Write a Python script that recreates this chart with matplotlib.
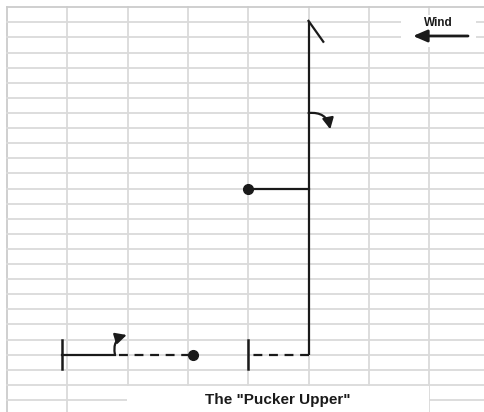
import matplotlib
matplotlib.use("Agg")
import matplotlib.pyplot as plt
from matplotlib.patches import Rectangle, FancyArrowPatch

plt.rcParams['font.family'] = ['Liberation Sans', 'DejaVu Sans']

# ---- data (grid units: x = spreadsheet column, y = spreadsheet row from top) ----
n_cols = 8
n_rows = 27

# right-hand route (receiver 1)
stem_x = [5, 5]
stem_y = [0.9, 23]
flag_x = [5, 5.245]
flag_y = [0.9, 2.28]
mid_branch_x = [5, 4]
mid_branch_y = [12, 12]
mid_dot = (4, 12)
right_dash_x = [5, 4]
right_dash_y = [23, 23]
right_bar_x = [4, 4]
right_bar_y = [22, 23.95]
right_curl_start = (5, 7.0)
right_curl_end = (5.36, 8.08)

# left-hand route (receiver 2)
left_bar_x = [0.915, 0.915]
left_bar_y = [22, 23.95]
left_solid_x = [0.915, 1.79]
left_solid_y = [23, 23]
left_curl_start = (1.79, 23)
left_curl_end = (1.985, 21.7)
left_dash_x = [1.86, 3.08]
left_dash_y = [23, 23]
left_dot = (3.08, 23)

# wind indicator
wind_label = "Wind"
wind_label_pos = (7.15, 1.05)
wind_from = (7.645, 1.9)
wind_to = (6.733, 1.9)

title_text = 'The "Pucker Upper"'
title_pos = (4.49, 26.3)

# ---- figure ----
fig = plt.figure(figsize=(4.84, 4.12), dpi=100)
ax = fig.add_axes([0, 0, 1, 1])
ax.set_xlim(-0.116, 7.910)
ax.set_ylim(26.80, -0.483)
ax.axis('off')

grid_c = '#dadada'
for c in range(0, n_cols):
    ax.plot([c, c], [0, n_rows], color='#cccccc' if c == 0 else grid_c, lw=1.3, zorder=1)
for r in range(0, n_rows):
    ax.plot([0, n_cols + 1], [r, r], color='#cccccc' if r == 0 else grid_c, lw=1.3, zorder=1)

# white boxes (title and wind text boxes)
ax.add_patch(Rectangle((1.99, 25.07), 5.0, 3, facecolor='white', edgecolor='none', zorder=2))
ax.add_patch(Rectangle((6.54, 0.5), 1.23, 2.1, facecolor='white', edgecolor='none', zorder=2))

ink = '#1a1a1a'
lw = 1.6
ax.plot(stem_x, stem_y, color=ink, lw=lw, zorder=3, solid_capstyle='butt')
ax.plot(flag_x, flag_y, color=ink, lw=lw, zorder=3)
ax.plot(mid_branch_x, mid_branch_y, color=ink, lw=lw, zorder=3)
ax.plot([mid_dot[0]], [mid_dot[1]], 'o', color=ink, ms=7, zorder=4)
ax.plot(right_dash_x, right_dash_y, color=ink, lw=lw, dashes=(4, 3), zorder=3)
ax.plot(right_bar_x, right_bar_y, color=ink, lw=lw + 0.2, zorder=3)

ax.plot(left_bar_x, left_bar_y, color=ink, lw=lw + 0.2, zorder=3)
ax.plot(left_solid_x, left_solid_y, color=ink, lw=lw, zorder=3)
ax.plot(left_dash_x, left_dash_y, color=ink, lw=lw, dashes=(4, 3), zorder=3)
ax.plot([left_dot[0]], [left_dot[1]], 'o', color=ink, ms=7, zorder=4)

for start, end, rad in [(right_curl_start, right_curl_end, -0.45),
                        (left_curl_start, left_curl_end, -0.45)]:
    ax.add_patch(FancyArrowPatch(start, end, connectionstyle=f'arc3,rad={rad}',
                                 arrowstyle='-|>,head_length=0.55,head_width=0.28',
                                 mutation_scale=12, color=ink, lw=lw,
                                 shrinkA=0, shrinkB=0, zorder=4))

ax.add_patch(FancyArrowPatch(wind_from, wind_to, arrowstyle='-|>,head_length=0.65,head_width=0.28',
                             mutation_scale=13, color=ink, lw=2, shrinkA=0, shrinkB=0, zorder=4))
ax.text(*wind_label_pos, wind_label, ha='center', va='center', fontsize=8.5,
        fontweight='bold', color=ink, zorder=5)

ax.text(*title_pos, title_text, ha='center', va='baseline', fontsize=11,
        fontweight='bold', color=ink, zorder=5)

fig.savefig('out.png', dpi=100)
